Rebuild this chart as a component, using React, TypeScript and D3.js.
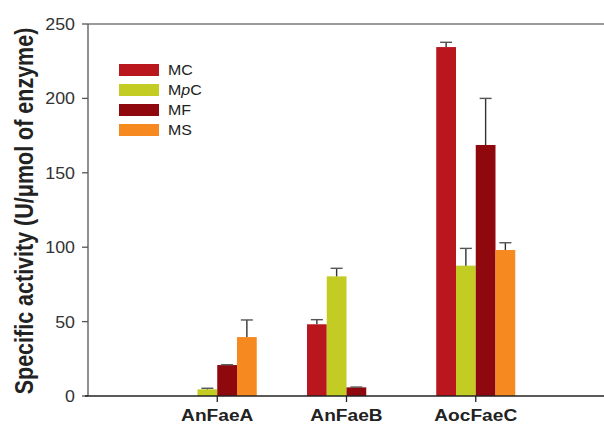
import React from 'react';
import * as d3 from 'd3';

const enzymes = ['AnFaeA', 'AnFaeB', 'AocFaeC'];
const substrates = ['MC', 'MpC', 'MF', 'MS'];
const colors = ['#b9161e', '#c3cc23', '#8f080d', '#f68a21'];

// activity per substrate, one value per enzyme (null = not detected)
const mcValues = [null, 48.2, 234.5];
const mpcValues = [4.5, 80.4, 87.6];
const mfValues = [20.8, 5.8, 168.7];
const msValues = [39.6, null, 98.1];

const mcErr = [0, 3.1, 3.2];
const mpcErr = [0.7, 5.4, 11.6];
const mfErr = [0.2, 0.2, 31.3];
const msErr = [11.5, 0, 4.9];

const yTicks = [0, 50, 100, 150, 200, 250];

const values = [mcValues, mpcValues, mfValues, msValues];
const errors = [mcErr, mpcErr, mfErr, msErr];

const width = 604;
const height = 425;
const margin = { top: 24, right: -1, bottom: 29, left: 88 };

const App = () => {
  const x = d3.scalePoint<string>()
    .domain(enzymes)
    .range([margin.left, width - margin.right])
    .padding(1);

  const inner = d3.scaleBand<string>()
    .domain(substrates)
    .range([-39.5, 39.5])
    .padding(0);

  const y = d3.scaleLinear()
    .domain([0, 250])
    .range([height - margin.bottom, margin.top]);

  const y0 = y(0);
  const capW = 12;

  return (
    <svg width={width} height={height} style={{ position: 'absolute', left: 0, top: 0 }}
      fontFamily="'Liberation Sans', Arial, sans-serif">
      {/* top frame line */}
      <line x1={margin.left} x2={width} y1={y(250)} y2={y(250)} stroke="#7a7a7a" strokeWidth={1.3} />

      {/* bars */}
      {substrates.map((s, si) => (
        <g key={s} fill={colors[si]}>
          {enzymes.map((e, ei) => {
            const v = values[si][ei];
            if (v == null) return null;
            const bx = (x(e) as number) + (inner(s) as number);
            return <rect key={e} x={bx} y={y(v)} width={inner.bandwidth()} height={y0 - y(v)} />;
          })}
        </g>
      ))}

      {/* error bars */}
      <g stroke="#333" strokeWidth={1.4}>
        {substrates.map((s, si) =>
          enzymes.map((e, ei) => {
            const v = values[si][ei];
            if (v == null) return null;
            const cx = (x(e) as number) + (inner(s) as number) + inner.bandwidth() / 2;
            const top = y(v + errors[si][ei]);
            return (
              <g key={s + e}>
                <line x1={cx} x2={cx} y1={y(v)} y2={top} />
                <line x1={cx - capW / 2} x2={cx + capW / 2} y1={top} y2={top} stroke="#555" />
              </g>
            );
          })
        )}
      </g>

      {/* y axis */}
      <line x1={margin.left} x2={margin.left} y1={y(250)} y2={y0} stroke="#555" strokeWidth={1.3} />
      {yTicks.map(t => (
        <g key={t}>
          <line x1={margin.left - 6} x2={margin.left} y1={y(t)} y2={y(t)} stroke="#555" strokeWidth={1.3} />
          <text transform={`translate(${margin.left - 13},${y(t)}) scale(1.08,1)`} dy="0.36em"
            textAnchor="end" fontSize={16.5} fill="#333">{t}</text>
        </g>
      ))}

      {/* x axis */}
      <line x1={margin.left - 3} x2={width} y1={y0} y2={y0} stroke="#222" strokeWidth={1.4} />
      {enzymes.map(e => (
        <g key={e}>
          <line x1={x(e)} x2={x(e)} y1={y0} y2={y0 + 6} stroke="#222" strokeWidth={1.3} />
          <text transform={`translate(${x(e)},421) scale(1.16,1)`} textAnchor="middle"
            fontSize={16.5} fontWeight="bold" fill="#222">{e}</text>
        </g>
      ))}

      {/* y title */}
      <text transform={`translate(33,${(26 + 396) / 2}) rotate(-90) scale(1,1.2)`} textAnchor="middle"
        fontSize={21.5} fontWeight="bold" fill="#222">
        Specific activity (U/μmol of enzyme)
      </text>

      {/* legend */}
      {substrates.map((s, i) => (
        <g key={s} transform={`translate(119,${64 + i * 20})`}>
          <rect width={40} height={12} fill={colors[i]} />
          <text transform="translate(49,6) scale(1.1,1)" dy="0.36em" fontSize={14.5} fill="#222">
            {s === 'MpC' ? <>M<tspan fontStyle="italic">p</tspan>C</> : s}
          </text>
        </g>
      ))}
    </svg>
  );
};

export default App;
